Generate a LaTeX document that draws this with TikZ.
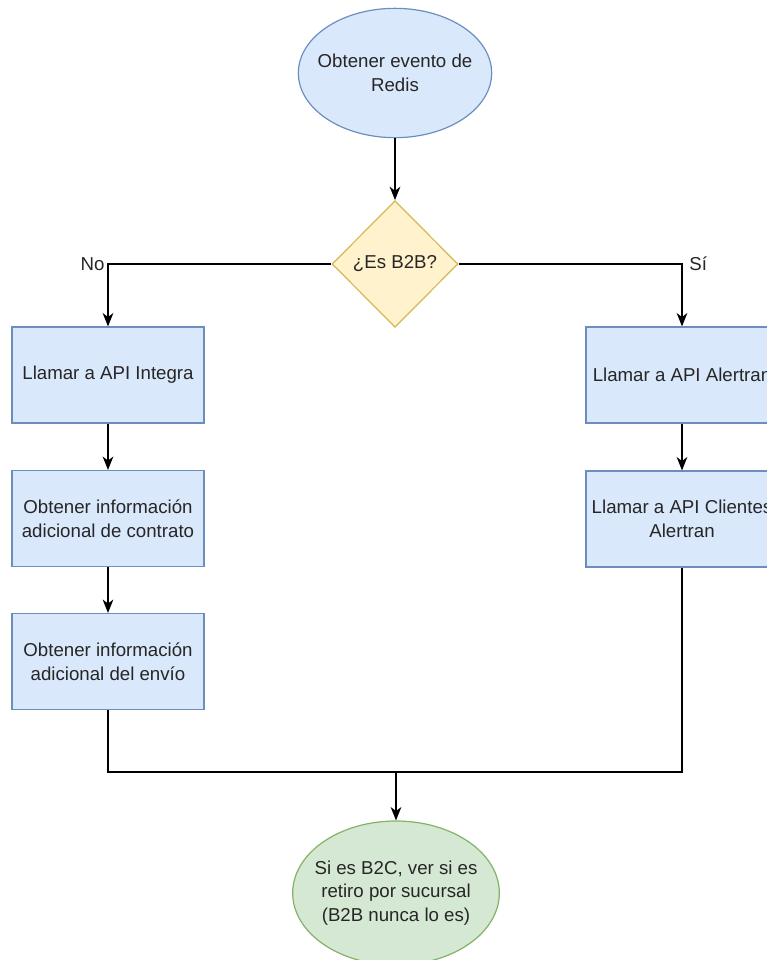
\documentclass[tikz,border=0pt]{standalone}
\usepackage{fontspec}
\setmainfont{Liberation Sans}
\usetikzlibrary{shapes.geometric,arrows.meta}

\definecolor{bluefill}{HTML}{DAE8FC}
\definecolor{bluedraw}{HTML}{6C8EBF}
\definecolor{yellowfill}{HTML}{FFF2CC}
\definecolor{yellowdraw}{HTML}{D6B656}
\definecolor{greenfill}{HTML}{D5E8D4}
\definecolor{greendraw}{HTML}{82B366}

\begin{document}
\begin{tikzpicture}[x=0.75pt, y=-0.75pt]

   % Styles for the flow chart
  \tikzset{
      txt/.style={font=\fontsize{14}{17.6}\selectfont, align=center, text=black!85},
      proc/.style={txt, rectangle, draw=bluedraw, fill=bluefill, line width=0.9pt,
                   minimum width=144pt, minimum height=72pt, inner sep=0pt},
      term/.style={txt, ellipse, draw=bluedraw, fill=bluefill, line width=0.9pt,
                   minimum width=145pt, minimum height=97pt, inner ysep=0pt, inner xsep=-7pt},
      decision/.style={txt, diamond, draw=yellowdraw, fill=yellowfill, line width=0.9pt,
                       minimum width=94.5pt, minimum height=95pt, inner sep=0pt},
      endterm/.style={txt, ellipse, draw=greendraw, fill=greenfill, line width=0.9pt,
                      minimum width=155pt, minimum height=108pt, inner ysep=0pt, inner xsep=-7pt},
      flow/.style={line width=1.1pt, -{Stealth[length=10pt, width=8pt, inset=3pt]}},
      mergeline/.style={line width=1.1pt}
  }

  \useasboundingbox (0, 0) rectangle (767, 960);

  \node[term] (redis) at (395, 73) {Obtener evento de\\Redis};
  \node[decision] (esb2b) at (395, 264) {¿Es B2B?};

  % left branch
  \node[proc] (integra) at (108, 375) {Llamar a API Integra};
  \node[proc] (contrato) at (108, 518.5) {Obtener información\\adicional de contrato};
  \node[proc] (envio) at (108, 661.5) {Obtener información\\adicional del envío};

  % right branch
  \node[proc] (alertran) at (682, 375) {Llamar a API Alertran};
  \node[proc] (clientes) at (682, 519) {Llamar a API Clientes\\Alertran};

  \node[endterm] (sucursal) at (396, 893) {Si es B2C, ver si es\\retiro por sucursal\\(B2B nunca lo es)};

  \coordinate (merge) at (396, 772);

  \draw[flow] (redis) -- (esb2b);
  \draw[flow] (esb2b.west) -| node[txt, pos=0.5, anchor=east, inner sep=2pt] {No} (integra.north);
  \draw[flow] (esb2b.east) -| node[txt, pos=0.5, anchor=west, inner sep=5pt] {Sí} (alertran.north);
  \draw[flow] (integra) -- (contrato);
  \draw[flow] (contrato) -- (envio);
  \draw[flow] (alertran) -- (clientes);

  % merge both branches
  \draw[mergeline] (envio.south) |- (merge);
  \draw[mergeline] (clientes.south) |- (merge);
  \draw[flow] (merge) -- (sucursal.north);

\end{tikzpicture}
\end{document}
